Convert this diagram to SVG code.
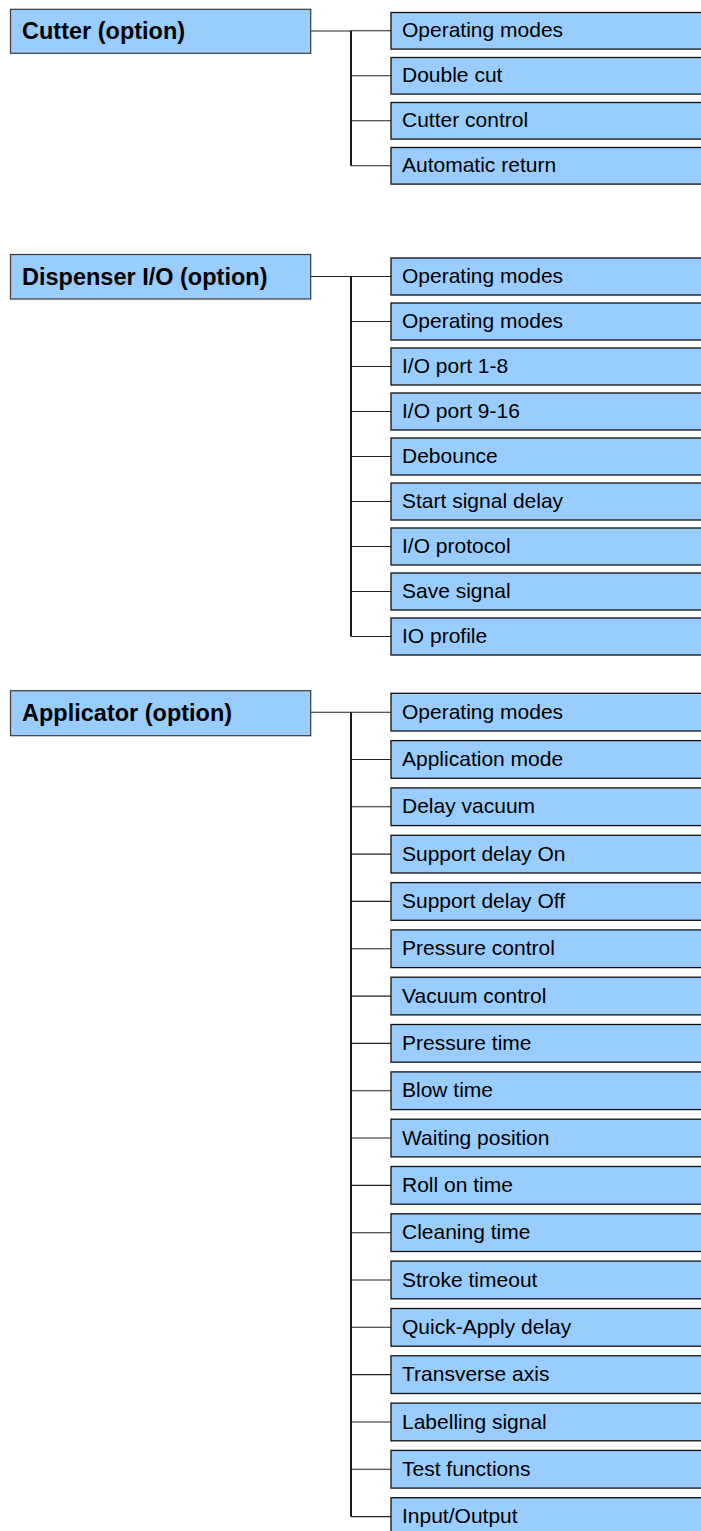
<svg xmlns="http://www.w3.org/2000/svg" width="701" height="1531" viewBox="0 0 701 1531">
<style>
.p{fill:#99CCFF;stroke:#3a3a3a;stroke-width:1.2}
.c{fill:#99CCFF;stroke:#111;stroke-width:1.3}
.pt{font-family:"Liberation Sans",Arial,sans-serif;font-weight:bold;font-size:23.5px;fill:#000}
.ct{font-family:"Liberation Sans",Arial,sans-serif;font-size:21px;fill:#000}
.trunk{stroke:#000;stroke-width:1.8;fill:none}
.br{stroke:#222;stroke-width:1.1;fill:none}
</style>
<rect width="701" height="1531" fill="#fff"/>
<g id="connectors">
<path class="br" d="M311 31H351M311 276.5H351M311 712.2H351"/>
<path class="trunk" d="M351 30.8V165.8M351 276.5V636.5M351 712.2V1516.6"/>
<path class="br" d="M351 30.8H391M351 75.8H391M351 120.8H391M351 165.8H391"/>
<path class="br" d="M351 276.5H391M351 321.5H391M351 366.5H391M351 411.5H391M351 456.5H391M351 501.5H391M351 546.5H391M351 591.5H391M351 636.5H391"/>
<path class="br" d="M351 712.2H391M351 759.5H391M351 806.8H391M351 854.1H391M351 901.4H391M351 948.8H391M351 996.1H391M351 1043.4H391M351 1090.7H391M351 1138H391M351 1185.4H391M351 1232.7H391M351 1280H391M351 1327.3H391M351 1374.6H391M351 1422H391M351 1469.3H391M351 1516.6H391"/>
</g>
<g id="cutter"><rect class="p" x="10.5" y="9.3" width="300.2" height="44"/><text class="pt" x="22" y="39.3">Cutter (option)</text></g>
<g id="cutter-1"><rect class="c" x="391" y="12.5" width="320" height="36.6"/><text class="ct" x="402" y="37.3">Operating modes</text></g>
<g id="cutter-2"><rect class="c" x="391" y="57.5" width="320" height="36.6"/><text class="ct" x="402" y="82.3">Double cut</text></g>
<g id="cutter-3"><rect class="c" x="391" y="102.5" width="320" height="36.6"/><text class="ct" x="402" y="127.3">Cutter control</text></g>
<g id="cutter-4"><rect class="c" x="391" y="147.5" width="320" height="36.6"/><text class="ct" x="402" y="172.3">Automatic return</text></g>
<g id="dispenser"><rect class="p" x="10.5" y="254.5" width="300.2" height="44.5"/><text class="pt" x="22" y="284.7">Dispenser I/O (option)</text></g>
<g id="disp-1"><rect class="c" x="391" y="258" width="320" height="37"/><text class="ct" x="402" y="283">Operating modes</text></g>
<g id="disp-2"><rect class="c" x="391" y="303" width="320" height="37"/><text class="ct" x="402" y="328">Operating modes</text></g>
<g id="disp-3"><rect class="c" x="391" y="348" width="320" height="37"/><text class="ct" x="402" y="373">I/O port 1-8</text></g>
<g id="disp-4"><rect class="c" x="391" y="393" width="320" height="37"/><text class="ct" x="402" y="418">I/O port 9-16</text></g>
<g id="disp-5"><rect class="c" x="391" y="438" width="320" height="37"/><text class="ct" x="402" y="463">Debounce</text></g>
<g id="disp-6"><rect class="c" x="391" y="483" width="320" height="37"/><text class="ct" x="402" y="508">Start signal delay</text></g>
<g id="disp-7"><rect class="c" x="391" y="528" width="320" height="37"/><text class="ct" x="402" y="553">I/O protocol</text></g>
<g id="disp-8"><rect class="c" x="391" y="573" width="320" height="37"/><text class="ct" x="402" y="598">Save signal</text></g>
<g id="disp-9"><rect class="c" x="391" y="618" width="320" height="37"/><text class="ct" x="402" y="643">IO profile</text></g>
<g id="applicator"><rect class="p" x="10.5" y="690.7" width="300.2" height="45"/><text class="pt" x="22" y="721.2">Applicator (option)</text></g>
<g id="app-1"><rect class="c" x="391" y="693.3" width="320" height="37.7"/><text class="ct" x="402" y="718.7">Operating modes</text></g>
<g id="app-2"><rect class="c" x="391" y="740.6" width="320" height="37.7"/><text class="ct" x="402" y="766">Application mode</text></g>
<g id="app-3"><rect class="c" x="391" y="787.9" width="320" height="37.7"/><text class="ct" x="402" y="813.3">Delay vacuum</text></g>
<g id="app-4"><rect class="c" x="391" y="835.3" width="320" height="37.7"/><text class="ct" x="402" y="860.6">Support delay On</text></g>
<g id="app-5"><rect class="c" x="391" y="882.6" width="320" height="37.7"/><text class="ct" x="402" y="907.9">Support delay Off</text></g>
<g id="app-6"><rect class="c" x="391" y="929.9" width="320" height="37.7"/><text class="ct" x="402" y="955.3">Pressure control</text></g>
<g id="app-7"><rect class="c" x="391" y="977.2" width="320" height="37.7"/><text class="ct" x="402" y="1002.6">Vacuum control</text></g>
<g id="app-8"><rect class="c" x="391" y="1024.5" width="320" height="37.7"/><text class="ct" x="402" y="1049.9">Pressure time</text></g>
<g id="app-9"><rect class="c" x="391" y="1071.9" width="320" height="37.7"/><text class="ct" x="402" y="1097.2">Blow time</text></g>
<g id="app-10"><rect class="c" x="391" y="1119.2" width="320" height="37.7"/><text class="ct" x="402" y="1144.5">Waiting position</text></g>
<g id="app-11"><rect class="c" x="391" y="1166.5" width="320" height="37.7"/><text class="ct" x="402" y="1191.9">Roll on time</text></g>
<g id="app-12"><rect class="c" x="391" y="1213.8" width="320" height="37.7"/><text class="ct" x="402" y="1239.2">Cleaning time</text></g>
<g id="app-13"><rect class="c" x="391" y="1261.1" width="320" height="37.7"/><text class="ct" x="402" y="1286.5">Stroke timeout</text></g>
<g id="app-14"><rect class="c" x="391" y="1308.5" width="320" height="37.7"/><text class="ct" x="402" y="1333.8">Quick-Apply delay</text></g>
<g id="app-15"><rect class="c" x="391" y="1355.8" width="320" height="37.7"/><text class="ct" x="402" y="1381.1">Transverse axis</text></g>
<g id="app-16"><rect class="c" x="391" y="1403.1" width="320" height="37.7"/><text class="ct" x="402" y="1428.5">Labelling signal</text></g>
<g id="app-17"><rect class="c" x="391" y="1450.4" width="320" height="37.7"/><text class="ct" x="402" y="1475.8">Test functions</text></g>
<g id="app-18"><rect class="c" x="391" y="1497.7" width="320" height="37.7"/><text class="ct" x="402" y="1523.1">Input/Output</text></g>
</svg>
